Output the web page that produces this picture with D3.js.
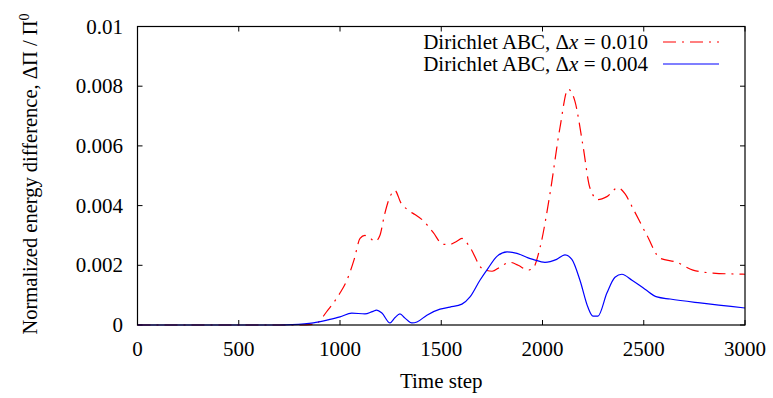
<!DOCTYPE html>
<html>
<head>
<meta charset="utf-8">
<script src="https://cdn.jsdelivr.net/npm/d3@7"></script>
<style>
  body { margin: 0; background: #fff; }
  text { font-family: "Liberation Serif", "Times New Roman", serif; fill: #000; }
</style>
</head>
<body>
<script>
// time steps + values
var redSteps = [0, 800, 876, 940, 1000, 1034, 1070, 1099, 1123, 1150, 1173, 1197, 1220, 1247, 1272, 1300, 1336, 1370, 1410, 1460, 1509, 1543, 1575, 1602, 1642, 1701, 1751, 1790, 1839, 1880, 1929, 1953, 1988, 2037, 2086, 2126, 2160, 2200, 2234, 2274, 2318, 2373, 2407, 2447, 2516, 2580, 2664, 2743, 2842, 3000];
var redVals = [0, 0, 0.00003, 0.0005, 0.00107, 0.0015, 0.0022, 0.0029, 0.0030, 0.0029, 0.0028, 0.0030, 0.0037, 0.0043, 0.0045, 0.0041, 0.00385, 0.0037, 0.0035, 0.0031, 0.0027, 0.0027, 0.0028, 0.0029, 0.0026, 0.0019, 0.0018, 0.00194, 0.0021, 0.0020, 0.00184, 0.0019, 0.0026, 0.0044, 0.0066, 0.0079, 0.0075, 0.0060, 0.0046, 0.0042, 0.0043, 0.0046, 0.0044, 0.0039, 0.0030, 0.00224, 0.0021, 0.00184, 0.00174, 0.0017];

var blueSteps = [0, 700, 763, 868, 940, 1000, 1058, 1123, 1160, 1181, 1207, 1247, 1272, 1296, 1321, 1355, 1380, 1429, 1494, 1543, 1602, 1642, 1691, 1731, 1775, 1825, 1874, 1929, 1953, 2012, 2070, 2111, 2145, 2185, 2224, 2249, 2274, 2318, 2358, 2392, 2442, 2506, 2565, 2630, 2778, 3000];
var blueVals = [0, 0, 0.00001, 0.00007, 0.00017, 0.00027, 0.0004, 0.00037, 0.00045, 0.0005, 0.0004, 0.00007, 0.00025, 0.00037, 0.00023, 0.00007, 0.0001, 0.00033, 0.00053, 0.0006, 0.0007, 0.00094, 0.0015, 0.0019, 0.0023, 0.00245, 0.0024, 0.00225, 0.0022, 0.0021, 0.0022, 0.00235, 0.0022, 0.0015, 0.0006, 0.0003, 0.0003, 0.00107, 0.0016, 0.0017, 0.0015, 0.0012, 0.00094, 0.00087, 0.00074, 0.00057];

var xTicks = [0, 500, 1000, 1500, 2000, 2500, 3000];
var yTicks = [0, 0.002, 0.004, 0.006, 0.008, 0.01];
var yTickLabels = ["0", "0.002", "0.004", "0.006", "0.008", "0.01"];
var legendLabels = ["0.010", "0.004"];

var W = 773, H = 398;
var pLeft = 137.5, pRight = 745, pTop = 26.5, pBottom = 325;
var fs = 21;

var svg = d3.select("body").append("svg")
    .attr("width", W).attr("height", H);

var x = d3.scaleLinear().domain([0, 3000]).range([pLeft, pRight]);
var y = d3.scaleLinear().domain([0, 0.01]).range([pBottom, pTop]);

// ticks, gnuplot style (inward, mirrored)
var tl = 5;
xTicks.forEach(function (t) {
    svg.append("line").attr("x1", x(t)).attr("x2", x(t))
        .attr("y1", pBottom).attr("y2", pBottom - tl).attr("stroke", "#000");
    svg.append("line").attr("x1", x(t)).attr("x2", x(t))
        .attr("y1", pTop).attr("y2", pTop + tl).attr("stroke", "#000");
    svg.append("text").attr("x", x(t)).attr("y", pBottom + 31)
        .attr("text-anchor", "middle").attr("font-size", fs).text(t);
});
yTicks.forEach(function (t, i) {
    svg.append("line").attr("x1", pLeft).attr("x2", pLeft + tl)
        .attr("y1", y(t)).attr("y2", y(t)).attr("stroke", "#000");
    svg.append("line").attr("x1", pRight).attr("x2", pRight - tl)
        .attr("y1", y(t)).attr("y2", y(t)).attr("stroke", "#000");
    svg.append("text").attr("x", pLeft - 14.5).attr("y", y(t) + 7)
        .attr("text-anchor", "end").attr("font-size", fs).text(yTickLabels[i]);
});

// curves
var line = d3.line()
    .x(function (d) { return x(d[0]); })
    .y(function (d) { return y(d[1]); })
    .curve(d3.curveMonotoneX);

var redData = redSteps.map(function (s, i) { return [s, redVals[i]]; });
var blueData = blueSteps.map(function (s, i) { return [s, blueVals[i]]; });

var dashRed = "13,6,2,6";

svg.append("path").datum(redData).attr("d", line)
    .attr("fill", "none").attr("stroke", "#ff0000").attr("stroke-width", 1.2)
    .attr("stroke-dasharray", dashRed);
svg.append("path").datum(blueData).attr("d", line)
    .attr("fill", "none").attr("stroke", "#0000ff").attr("stroke-width", 1.2);

// frame
svg.append("rect").attr("x", pLeft).attr("y", pTop)
    .attr("width", pRight - pLeft).attr("height", pBottom - pTop)
    .attr("fill", "none").attr("stroke", "#000").attr("stroke-width", 1.2);

// legend
var colors = ["#ff0000", "#0000ff"];
var dashes = [dashRed, null];
legendLabels.forEach(function (lab, i) {
    var ly = 42 + i * 22;
    var t = svg.append("text").attr("x", 648).attr("y", ly + 6.5)
        .attr("text-anchor", "end").attr("font-size", fs);
    t.append("tspan").text("Dirichlet ABC, \u0394");
    t.append("tspan").attr("font-style", "italic").text("x");
    t.append("tspan").text(" = " + lab);
    svg.append("line").attr("x1", 663).attr("x2", 719)
        .attr("y1", ly).attr("y2", ly)
        .attr("stroke", colors[i]).attr("stroke-width", 1.2)
        .attr("stroke-dasharray", dashes[i]);
});

// axis titles
svg.append("text").attr("x", (pLeft + pRight) / 2).attr("y", 388)
    .attr("text-anchor", "middle").attr("font-size", fs).text("Time step");

var yl = svg.append("text")
    .attr("transform", "translate(37," + 174 + ") rotate(-90)")
    .attr("text-anchor", "middle").attr("font-size", 20.5);
yl.append("tspan").text("Normalized energy difference, \u0394\u03A0 / \u03A0");
yl.append("tspan").attr("font-size", 14).attr("dy", "-0.6em").text("0");
</script>
</body>
</html>
